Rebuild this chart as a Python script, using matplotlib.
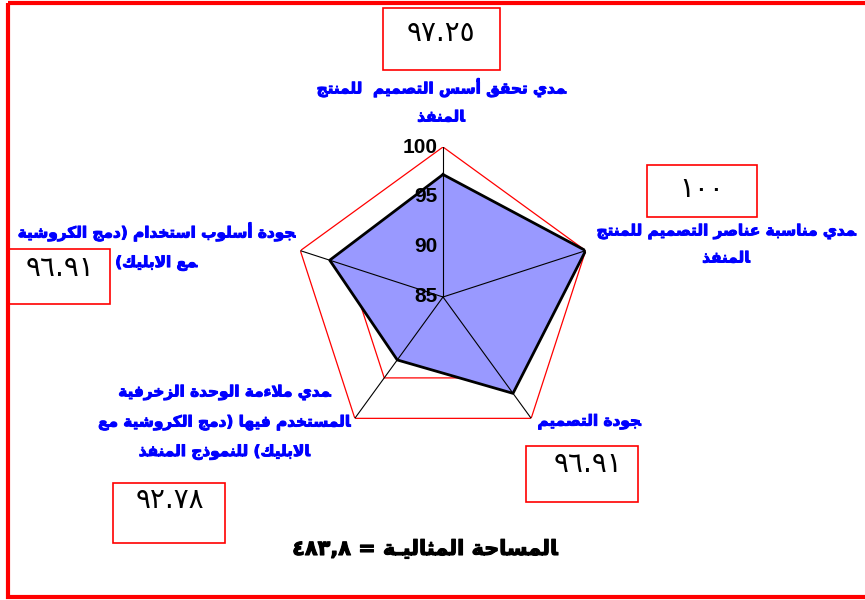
import re
import numpy as np
import matplotlib
matplotlib.use("Agg")
import matplotlib.pyplot as plt
import matplotlib.patheffects as pe
from matplotlib.patches import Rectangle

# ---- data -------------------------------------------------------------
categories = [
    "مدي تحقق أسس التصميم  للمنتج\nالمنفذ",
    "مدي مناسبة عناصر التصميم للمنتج\nالمنفذ",
    "جودة التصميم",
    "مدي ملاءمة الوحدة الزخرفية\nالمستخدم فيها (دمج الكروشية مع\nالابليك) للنموذج المنفذ",
    "جودة أسلوب استخدام (دمج الكروشية\nمع الابليك)",
]
values = [97.25, 100, 96.91, 92.78, 96.91]
value_labels = ["٩٧.٢٥", "١٠٠", "٩٦.٩١", "٩٢.٧٨", "٩٦.٩١"]
r_ticks = [85, 90, 95, 100]
area_title = "المساحة المثاليـة = ٤٨٣,٨"

# ---- minimal arabic shaping (matplotlib does no shaping / bidi) --------
_dual = "ئبتثجحخسشصضطظعغفقكلمنهي"
_right = "آأؤإاةدذرزوى"
_base = {}
code = 0xFE80
for ch in "ءآأؤإئابةتثجحخدذرزسشصضطظعغفقكلمنهوىي":
    _base[ch] = code
    if ch == "ء":
        code += 1
    elif ch in _right:
        code += 2
    else:
        code += 4
_lam_alef = {"آ": 0xFEF5, "أ": 0xFEF7, "إ": 0xFEF9, "ا": 0xFEFB}


def _joins_left(ch):
    return ch in _dual or ch == "ـ"


def _joins_right(ch):
    return ch in _base and ch != "ء" or ch == "ـ"


def shape(line):
    out = []
    i = 0
    n = len(line)
    while i < n:
        c = line[i]
        prev = line[i - 1] if i > 0 else ""
        nxt = line[i + 1] if i + 1 < n else ""
        jp = _joins_left(prev) and _joins_right(c)
        if c == "ل" and nxt in _lam_alef:
            out.append(chr(_lam_alef[nxt] + (1 if jp else 0)))
            i += 2
            continue
        if c not in _base:
            out.append(c)
            i += 1
            continue
        jn = _joins_left(c) and _joins_right(nxt)
        form = 3 if (jp and jn) else 1 if jp else 2 if jn else 0
        out.append(chr(_base[c] + form))
        i += 1
    # visual order: reverse, keep digit runs left-to-right, mirror brackets
    tokens = re.findall(r"[0-9٠-٩][0-9٠-٩.,٫]*|.", "".join(out))
    mirror = {"(": ")", ")": "("}
    return "".join(mirror.get(t, t) for t in reversed(tokens))


# ---- figure -----------------------------------------------------------
W, H = 865, 600
fig = plt.figure(figsize=(W / 100, H / 100), dpi=100)

# overlay axes in pixel coordinates for labels / boxes / frame
ov = fig.add_axes([0, 0, 1, 1])
ov.set_xlim(0, W)
ov.set_ylim(H, 0)
ov.axis("off")

# radar (polar) axes: centre (443, 297), radius 150 px
cx, cy, rad = 443, 297, 150
ax = fig.add_axes([(cx - rad) / W, (H - cy - rad) / H, 2 * rad / W, 2 * rad / H],
                  projection="polar")
ax.set_theta_offset(np.pi / 2)
ax.set_theta_direction(-1)
ax.set_ylim(85, 100)
ax.grid(False)
ax.spines["polar"].set_visible(False)
ax.set_xticks([])
ax.set_yticks([])
ax.patch.set_alpha(0)

theta = np.linspace(0, 2 * np.pi, len(values), endpoint=False)
t_closed = np.append(theta, theta[0])
v_closed = np.append(values, values[0])

# red pentagon gridlines (under the fill)
for r in r_ticks[1:]:
    ax.plot(t_closed, [r] * len(t_closed), color="#FF0000", lw=0.9, zorder=1)

ax.fill(t_closed, v_closed, facecolor="#9999FF", edgecolor="none", zorder=2)

# spokes
for t in theta:
    ax.plot([t, t], [85, 100], color="black", lw=0.8, zorder=3)

ax.plot(t_closed, v_closed, color="black", lw=2, zorder=4)

for r in r_ticks:
    ax.annotate(str(r), xy=(0, r), xytext=(-4, 0), textcoords="offset points",
                ha="right", va="center", fontsize=15, fontweight="bold",
                family="Liberation Sans", zorder=5)

# category labels (blue, bold), one text per line
label_pos = [(441, 88), (726, 232), (589, 422), (224, 393), (156, 232)]
line_step = [29, 26, 28, 29.5, 31]
heavy_blue = [pe.withStroke(linewidth=0.7, foreground="#0000FF")]
for text, (x, y), step in zip(categories, label_pos, line_step):
    for k, line in enumerate(text.split("\n")):
        ov.text(x, y + k * step, shape(line), ha="center", va="center",
                color="#0000FF", fontsize=11, fontweight="bold",
                family="DejaVu Sans", path_effects=heavy_blue)

# value boxes
box_rects = [(383, 8, 117, 62), (647, 165, 110, 52), (526, 446, 112, 56),
             (113, 483, 112, 60), (9, 249, 101, 55)]
value_pos = [(441, 33), (702, 189), (588, 464), (170, 500), (60, 268)]
for (bx, by, bw, bh), (x, y), v in zip(box_rects, value_pos, value_labels):
    ov.add_patch(Rectangle((bx, by), bw, bh, fill=False, edgecolor="#FF0000",
                           lw=1.2))
    ov.text(x, y, v, ha="center", va="center", fontsize=20,
            family="DejaVu Sans", color="black")

ov.text(425, 549, shape(area_title), ha="center", va="center", fontsize=15,
        fontweight="bold", family="DejaVu Sans", color="black",
        path_effects=[pe.withStroke(linewidth=0.8, foreground="black")])

# outer red frame
ov.add_patch(Rectangle((8, 3), W + 10, 594, fill=False, edgecolor="#FF0000",
                       lw=3, clip_on=False))

fig.savefig("out.png", dpi=100)
